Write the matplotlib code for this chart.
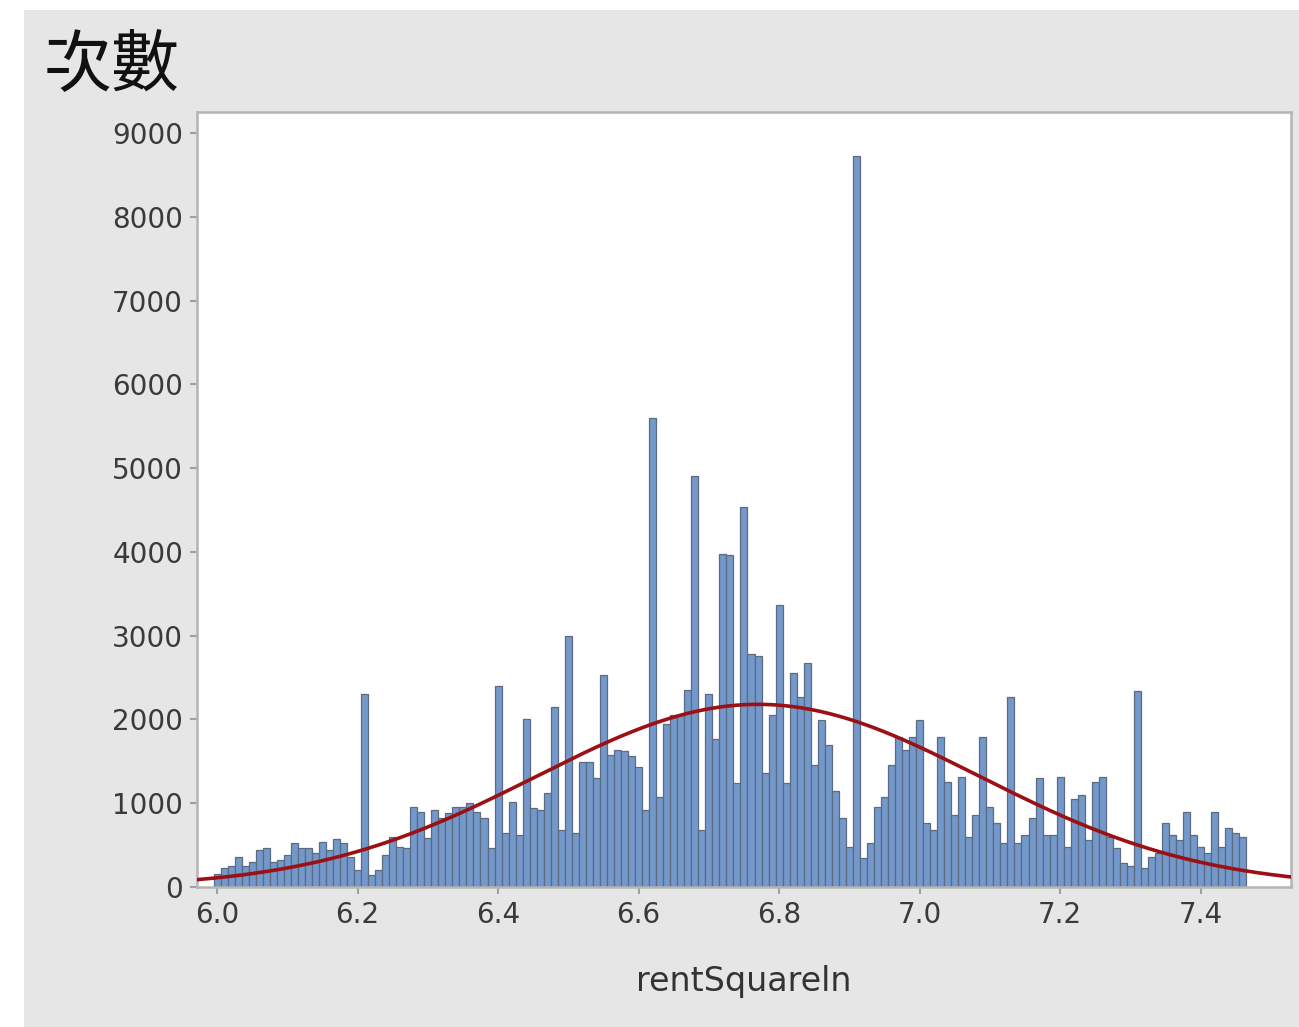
import numpy as np
import matplotlib
matplotlib.use('Agg')
from matplotlib import pyplot as plt

# histogram of rentSquareln, bins of 0.01 centred on 6.00 ... 7.46
bin_start = 6.00
bin_width = 0.01
counts = [
    160, 230, 250, 360, 250, 300, 440, 470, 300, 320,
    380, 520, 470, 470, 400, 540, 440, 570, 520, 360,
    200, 2300, 140, 200, 380, 600, 480, 470, 955, 900,
    580, 920, 820, 885, 955, 950, 1000, 900, 820, 470,
    2400, 650, 1020, 620, 2000, 940, 920, 1120, 2150, 680,
    3000, 640, 1490, 1490, 1300, 2530, 1580, 1630, 1620, 1560,
    1430, 920, 5600, 1070, 1950, 2050, 2050, 2350, 4900, 680,
    2300, 1770, 3980, 3960, 1240, 4530, 2780, 2760, 1360, 2050,
    3370, 1240, 2550, 2270, 2670, 1460, 1990, 1690, 1140, 820,
    480, 8730, 345, 520, 955, 1075, 1455, 1790, 1630, 1790,
    1990, 760, 680, 1790, 1250, 860, 1310, 600, 860, 1790,
    955, 760, 520, 2270, 520, 620, 820, 1300, 620, 620,
    1315, 480, 1050, 1100, 560, 1250, 1315, 600, 470, 290,
    250, 2340, 230, 360, 400, 760, 620, 560, 900, 620,
    480, 400, 900, 480, 700, 650, 600,
]

# fitted normal curve
fit_mean = 6.77
fit_sd = 0.315
fit_peak = 2180

x_ticks = [6.0, 6.2, 6.4, 6.6, 6.8, 7.0, 7.2, 7.4]
y_ticks = [0, 1000, 2000, 3000, 4000, 5000, 6000, 7000, 8000, 9000]

centers = bin_start + bin_width * np.arange(len(counts))

fig = plt.figure(figsize=(12.99, 10.27), dpi=100)
fig.patch.set_facecolor('white')
# grey panel behind everything (white strip on left / top)
fig.patches.append(plt.Rectangle((24 / 1299, 0), 1, 1 - 10 / 1027,
                                 transform=fig.transFigure,
                                 facecolor='#e6e6e6', edgecolor='none', zorder=-10))

ax = fig.add_axes([197 / 1299, 1 - 887 / 1027, (1291 - 197) / 1299, (887 - 112) / 1027])
ax.set_facecolor('white')

ax.bar(centers, counts, width=bin_width, color='#7398cb', edgecolor='#5d6b80',
       linewidth=0.9, zorder=2)

xs = np.linspace(5.97, 7.53, 400)
ys = fit_peak * np.exp(-0.5 * ((xs - fit_mean) / fit_sd) ** 2)
ax.plot(xs, ys, color='#9b1014', linewidth=2.6, zorder=3)

ax.set_xlim(5.9715, 7.5286)
ax.set_ylim(0, 9250)

ax.set_xticks(x_ticks)
ax.set_xticklabels(['%.1f' % v for v in x_ticks])
ax.set_yticks(y_ticks)
ax.set_yticklabels([str(v) for v in y_ticks])

for s in ax.spines.values():
    s.set_color('#b4b4b4')
    s.set_linewidth(1.8)

ax.tick_params(axis='both', colors='#a0a0a0', length=5, width=1.5,
               labelsize=20, labelcolor='#3a3a3a', pad=5)

ax.set_xlabel('rentSquareln', fontsize=24, color='#333333', labelpad=26)

fig.text(44 / 1299, 1 - 86 / 1027, '次數', fontsize=49, color='#111111',
         family=['Noto Sans CJK TC', 'DejaVu Sans'], ha='left', va='baseline')

fig.savefig('out.png', dpi=100)
